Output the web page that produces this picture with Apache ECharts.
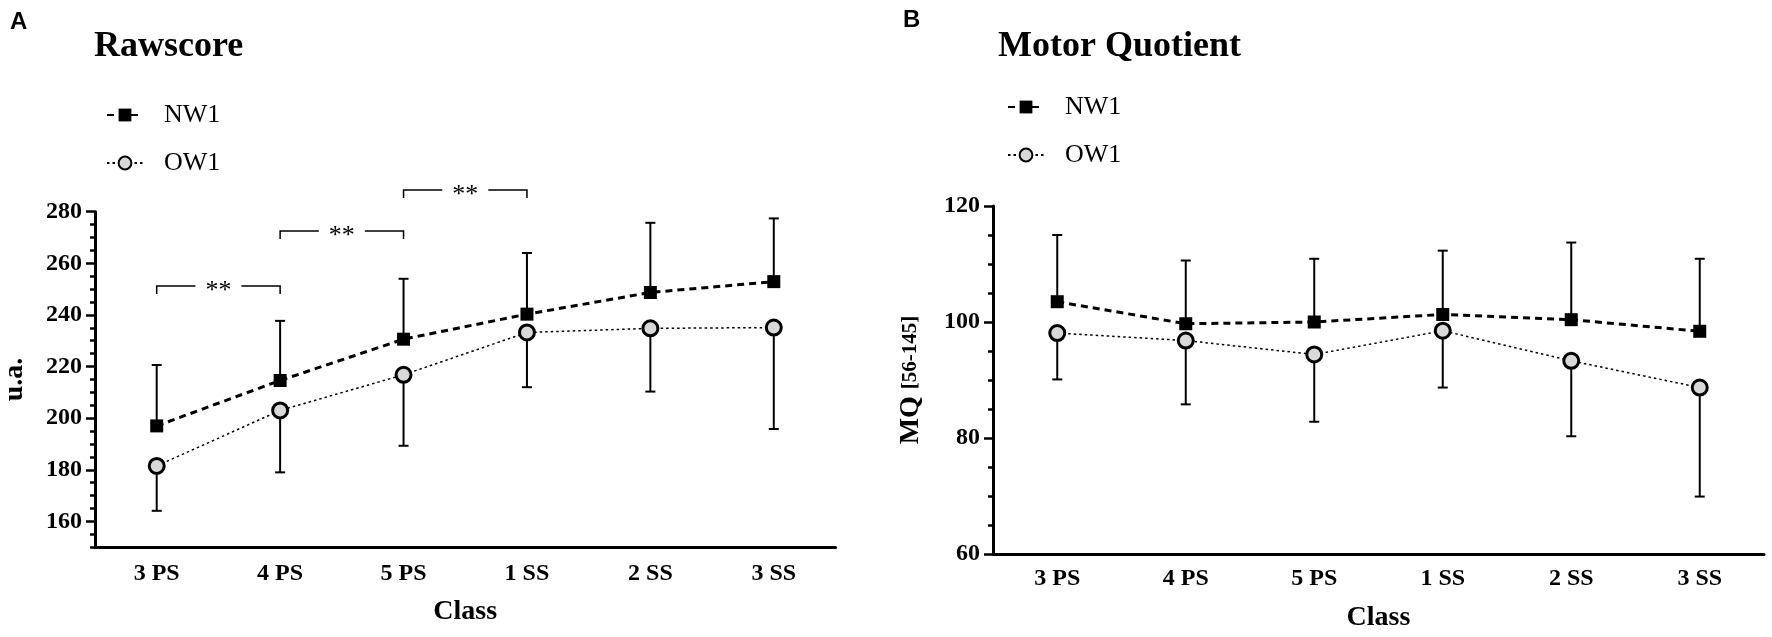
<!DOCTYPE html>
<html>
<head>
<meta charset="utf-8">
<script src="https://cdn.jsdelivr.net/npm/echarts@6/dist/echarts.min.js"></script>
<style>
  html, body { margin: 0; padding: 0; background: #fff; }
  #chart { width: 1772px; height: 637px; }
</style>
</head>
<body>
<div id="chart"></div>
<script>
// classes on the x axis (both panels)
const classes = ['3 PS', '4 PS', '5 PS', '1 SS', '2 SS', '3 SS'];

// A - Rawscore (mean, and the end of the SD bar)
const rawNW1 = [197.0, 214.6, 230.6, 240.3, 248.7, 252.9];
const rawNW1Upper = [220.6, 237.7, 254.0, 264.0, 275.7, 277.4];
const rawOW1 = [181.5, 203.0, 216.8, 233.2, 234.8, 235.1];
const rawOW1Lower = [164.1, 179.0, 189.3, 212.0, 210.3, 195.8];
// significance brackets: from class, to class, height
const rawBrackets = [[0, 1, 251.2], [1, 2, 272.5], [2, 3, 288.4]];
const rawTicks = [160, 180, 200, 220, 240, 260, 280];

// B - Motor Quotient
const mqNW1 = [103.5, 99.7, 100.0, 101.3, 100.4, 98.4];
const mqNW1Upper = [115.0, 110.6, 110.9, 112.3, 113.7, 110.9];
const mqOW1 = [98.1, 96.8, 94.4, 98.5, 93.3, 88.7];
const mqOW1Lower = [90.1, 85.8, 82.8, 88.7, 80.3, 69.9];
const mqTicks = [60, 80, 100, 120];

const serif = 'Liberation Serif';
const tickFont = { fontFamily: serif, fontWeight: 'bold', fontSize: 24, color: '#000' };
const nameFont = { fontFamily: serif, fontWeight: 'bold', fontSize: 28, color: '#000' };

function errorBarItem(params, api) {
  const x = api.value(0);
  const p0 = api.coord([x, api.value(1)]);
  const p1 = api.coord([x, api.value(2)]);
  const cap = 5;
  const style = { stroke: '#000', lineWidth: 2 };
  return {
    type: 'group',
    children: [
      { type: 'line', shape: { x1: p0[0], y1: p0[1], x2: p1[0], y2: p1[1] }, style: style },
      { type: 'line', shape: { x1: p1[0] - cap, y1: p1[1], x2: p1[0] + cap, y2: p1[1] }, style: style }
    ]
  };
}

function bracketItem(params, api) {
  const a = api.coord([api.value(0), api.value(2)]);
  const b = api.coord([api.value(1), api.value(2)]);
  const drop = 8, gap = 23;
  const mid = (a[0] + b[0]) / 2;
  const style = { stroke: '#000', lineWidth: 1.5, fill: null };
  return {
    type: 'group',
    children: [
      { type: 'polyline', shape: { points: [[a[0], a[1] + drop], [a[0], a[1]], [mid - gap, a[1]]] }, style: style },
      { type: 'polyline', shape: { points: [[mid + gap, b[1]], [b[0], b[1]], [b[0], b[1] + drop]] }, style: style },
      { type: 'text', x: mid, y: a[1] + 5, style: { text: '**', fontSize: 26, fontFamily: serif, textAlign: 'center', textVerticalAlign: 'middle', fill: '#000' } }
    ]
  };
}

function bars(mean, end) {
  return mean.map((v, i) => [i, v, end[i]]);
}

function xAxisFor(gridIndex, gap, margin) {
  return {
    gridIndex: gridIndex,
    type: 'category',
    data: classes,
    boundaryGap: true,
    axisLine: { lineStyle: { color: '#000', width: 3 } },
    axisTick: { alignWithLabel: true, length: 8, lineStyle: { color: '#000', width: 2.5 } },
    axisLabel: Object.assign({ margin: margin }, tickFont),
    name: 'Class',
    nameLocation: 'middle',
    nameGap: gap,
    nameTextStyle: nameFont
  };
}

// labelled axis: long ticks and labels at the major values
function yAxisFor(gridIndex, min, max, majors, name, gap) {
  return {
    gridIndex: gridIndex,
    type: 'value',
    min: min,
    max: max,
    interval: 5,
    splitLine: { show: false },
    axisLine: { show: true, lineStyle: { color: '#000', width: 3 } },
    axisTick: { show: true, length: 9, customValues: majors, lineStyle: { color: '#000', width: 2.5 } },
    axisLabel: Object.assign({
      margin: 13,
      customValues: majors,
      formatter: v => (v % 20 === 0 ? String(v) : '')
    }, tickFont),
    name: name,
    nameLocation: 'middle',
    nameGap: gap,
    nameTextStyle: Object.assign({
      rich: {
        big: { fontFamily: serif, fontWeight: 'bold', fontSize: 28, color: '#000' },
        small: { fontFamily: serif, fontWeight: 'bold', fontSize: 21, color: '#000' }
      }
    }, nameFont)
  };
}

// overlay axis carrying the short ticks every 5 units
function minorAxisFor(gridIndex, min, max) {
  return {
    gridIndex: gridIndex,
    type: 'value',
    position: 'left',
    offset: 0,
    min: min,
    max: max,
    interval: 5,
    splitLine: { show: false },
    axisLine: { show: false },
    axisTick: { show: true, length: 5, lineStyle: { color: '#000', width: 2.5 } },
    axisLabel: { show: false }
  };
}

const nw1Line = {
  type: 'line',
  name: 'NW1',
  symbol: 'rect',
  symbolSize: 13,
  z: 3,
  itemStyle: { color: '#000' },
  lineStyle: { color: '#000', width: 3, type: [7, 5] }
};
const ow1Line = {
  type: 'line',
  name: 'OW1',
  symbol: 'circle',
  symbolSize: 15,
  z: 3,
  itemStyle: { color: '#d9d9d9', borderColor: '#000', borderWidth: 3 },
  lineStyle: { color: '#000', width: 1.5, type: [2.5, 3] }
};
const barSeries = {
  type: 'custom',
  renderItem: errorBarItem,
  clip: false,
  z: 2,
  encode: { x: 0, y: [1, 2] },
  silent: true
};

function legendFor(left, top) {
  return {
    data: ['NW1', 'OW1'],
    orient: 'vertical',
    left: left,
    top: top,
    padding: 0,
    itemWidth: 36,
    itemHeight: 16,
    itemGap: 18,
    selectedMode: false,
    textStyle: { fontFamily: serif, fontSize: 26, color: '#000', lineHeight: 30, padding: [0, 0, 0, 16] }
  };
}

const letterStyle = { fontFamily: 'Liberation Sans', fontWeight: 'bold', fontSize: 24, lineHeight: 24, color: '#000' };
const titleStyle = { fontFamily: serif, fontWeight: 'bold', fontSize: 36, lineHeight: 36, color: '#000' };

const chart = echarts.init(document.getElementById('chart'));
chart.setOption({
  backgroundColor: '#fff',
  animation: false,
  title: [
    { text: 'A', left: 10, top: 10, padding: 0, textStyle: letterStyle },
    { text: 'B', left: 903, top: 8, padding: 0, textStyle: letterStyle },
    { text: 'Rawscore', left: 94, top: 29, padding: 0, textStyle: titleStyle },
    { text: 'Motor Quotient', left: 998, top: 29, padding: 0, textStyle: titleStyle }
  ],
  legend: [legendFor(106, 100), legendFor(1007, 92)],
  grid: [
    { left: 93.5, top: 211.7, width: 742, height: 335.5 },
    { left: 993, top: 206, width: 771, height: 349 }
  ],
  xAxis: [xAxisFor(0, 51, 15), xAxisFor(1, 50, 13)],
  yAxis: [
    yAxisFor(0, 150, 280, rawTicks, 'u.a.', 66),
    yAxisFor(1, 60, 120, mqTicks, '{big|MQ} {small|[56-145]}', 68),
    minorAxisFor(0, 150, 280),
    minorAxisFor(1, 60, 120)
  ],
  series: [
    Object.assign({}, barSeries, { name: 'NW1 SD A', xAxisIndex: 0, yAxisIndex: 0, data: bars(rawNW1, rawNW1Upper) }),
    Object.assign({}, barSeries, { name: 'OW1 SD A', xAxisIndex: 0, yAxisIndex: 0, data: bars(rawOW1, rawOW1Lower) }),
    Object.assign({}, nw1Line, { xAxisIndex: 0, yAxisIndex: 0, data: rawNW1 }),
    Object.assign({}, ow1Line, { xAxisIndex: 0, yAxisIndex: 0, data: rawOW1 }),
    {
      type: 'custom',
      name: 'brackets',
      xAxisIndex: 0,
      yAxisIndex: 0,
      renderItem: bracketItem,
      clip: false,
      silent: true,
      encode: { x: [0, 1], y: 2 },
      data: rawBrackets
    },
    Object.assign({}, barSeries, { name: 'NW1 SD B', xAxisIndex: 1, yAxisIndex: 1, data: bars(mqNW1, mqNW1Upper) }),
    Object.assign({}, barSeries, { name: 'OW1 SD B', xAxisIndex: 1, yAxisIndex: 1, data: bars(mqOW1, mqOW1Lower) }),
    Object.assign({}, nw1Line, { xAxisIndex: 1, yAxisIndex: 1, data: mqNW1 }),
    Object.assign({}, ow1Line, { xAxisIndex: 1, yAxisIndex: 1, data: mqOW1 })
  ]
});
</script>
</body>
</html>
